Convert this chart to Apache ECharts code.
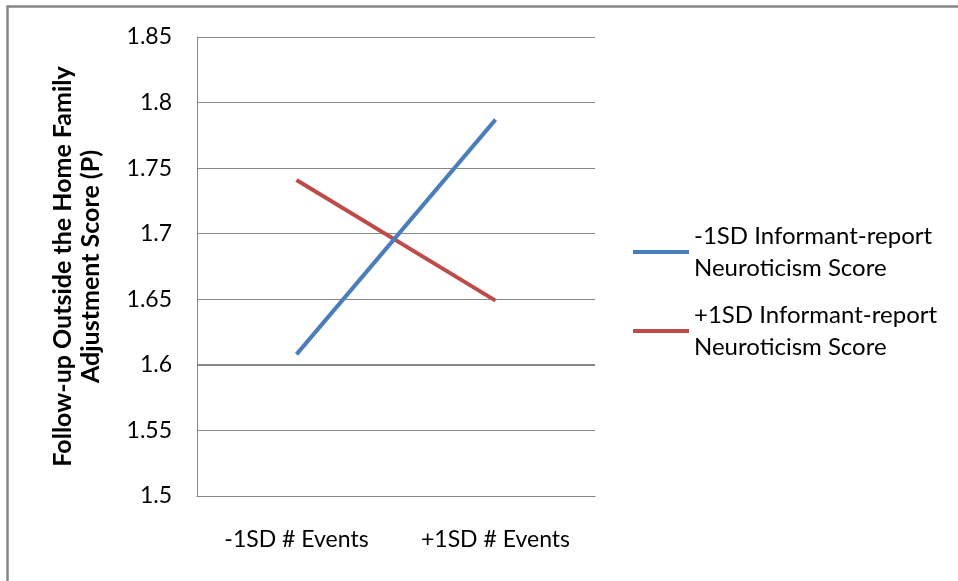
<!DOCTYPE html>
<html>
<head>
<meta charset="utf-8">
<script src="https://cdn.jsdelivr.net/npm/echarts@6/dist/echarts.min.js"></script>
<style>
html,body{margin:0;padding:0;background:#fff;}
#chart{width:958px;height:581px;}
</style>
</head>
<body>
<div id="chart"></div>
<script>
var categories = ['-1SD # Events', '+1SD # Events'];
var seriesNames = ['-1SD Informant-report\nNeuroticism Score', '+1SD Informant-report\nNeuroticism Score'];
var lowNeuroticism = [1.608, 1.787];
var highNeuroticism = [1.741, 1.649];
var yTicks = [1.5, 1.55, 1.6, 1.65, 1.7, 1.75, 1.8, 1.85];
var yAxisTitle = 'Follow-up Outside the Home Family\nAdjustment Score (P)';

var FONT = 'Lato';
var chart = echarts.init(document.getElementById('chart'));
chart.setOption({
  backgroundColor: '#fff',
  animation: false,
  graphic: [{
    type: 'rect',
    shape: { x: 7.5, y: 6.5, width: 1000, height: 1000 },
    style: { fill: 'none', stroke: '#878787', lineWidth: 2.5 },
    silent: true
  }],
  grid: { left: 197, right: 363, top: 37, bottom: 85 },
  legend: {
    left: 633, top: 204,
    padding: 0,
    orient: 'vertical',
    itemWidth: 56, itemHeight: 4,
    itemGap: -17,
    icon: 'rect',
    textStyle: { fontFamily: FONT, fontSize: 24, color: '#000', lineHeight: 32, padding: [32, 0, 0, 0] },
    data: seriesNames
  },
  xAxis: {
    type: 'category',
    data: categories,
    boundaryGap: true,
    axisLine: { lineStyle: { color: '#878787', width: 1 } },
    axisTick: { show: false },
    axisLabel: { fontFamily: FONT, fontSize: 23, color: '#000', margin: 32 },
    splitLine: { show: false }
  },
  yAxis: {
    type: 'value',
    min: yTicks[0], max: yTicks[yTicks.length - 1], interval: 0.05,
    name: yAxisTitle,
    nameLocation: 'middle',
    nameGap: 92,
    nameTextStyle: { fontFamily: FONT, fontSize: 25, fontWeight: 'bold', color: '#000', lineHeight: 28 },
    axisLine: { show: true, lineStyle: { color: '#878787', width: 1 } },
    axisTick: { show: false },
    axisLabel: { fontFamily: FONT, fontSize: 23, color: '#000', margin: 25,
      formatter: function (v) { return String(+v.toFixed(2)); } },
    splitLine: { show: true, lineStyle: { color: '#878787', width: 1 } }
  },
  series: [{
    name: seriesNames[0], type: 'line', data: lowNeuroticism,
    symbol: 'none', itemStyle: { color: '#4A7EBB' },
    lineStyle: { color: '#4A7EBB', width: 4 },
    markLine: {
      silent: true, symbol: ['none', 'none'], label: { show: false },
      lineStyle: { color: '#878787', width: 2, type: 'solid' },
      data: [{ yAxis: yTicks[2] }]
    },
    z: 3
  }, {
    name: seriesNames[1], type: 'line', data: highNeuroticism,
    symbol: 'none', itemStyle: { color: '#BE4B48' },
    lineStyle: { color: '#BE4B48', width: 4 },
    z: 2
  }]
});
</script>
</body>
</html>
